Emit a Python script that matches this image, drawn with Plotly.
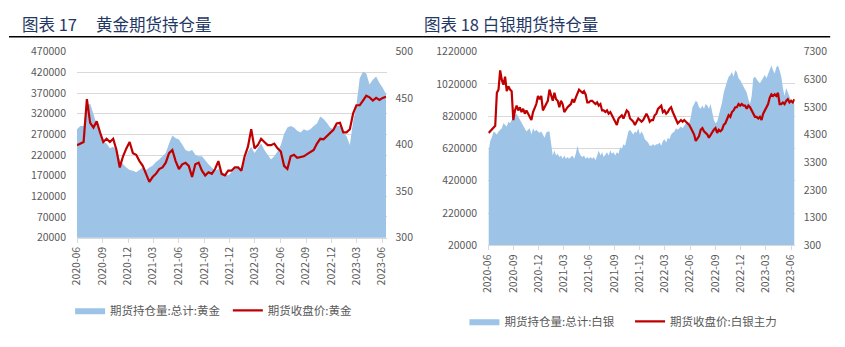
import pandas as pd
import plotly.graph_objects as go

# ---------------- data ----------------
gold_dates = pd.date_range("2020-06-01", "2023-06-15", periods=95)
gold_oi_k = [282.4, 290.2, 290.2, 340.3, 344.2, 317.2, 294.0, 278.6, 251.6, 247.7,
             236.1, 240.0, 232.3, 209.1, 197.5, 189.8, 183.6, 182.1, 178.2, 183.6,
             189.8, 183.6, 189.8, 193.7, 202.9, 209.1, 216.8, 224.6, 247.7, 267.0,
             260.8, 257.7, 245.4, 232.3, 228.4, 232.3, 220.7, 216.8, 216.8, 206.8,
             197.5, 189.8, 182.1, 186.0, 178.2, 174.4, 170.5, 178.2, 186.0, 189.8,
             183.6, 205.3, 228.4, 240.0, 224.6, 236.1, 247.7, 232.3, 220.7, 209.1,
             216.8, 228.4, 243.9, 270.9, 286.3, 290.2, 286.3, 278.6, 274.7, 282.4,
             278.6, 282.4, 290.2, 296.3, 313.3, 307.1, 297.9, 286.3, 282.4, 291.7,
             290.2, 274.7, 265.5, 243.9, 301.7, 340.3, 406.0, 421.4, 417.5, 390.5,
             402.1, 409.8, 394.4, 382.8, 367.4]
gold_oi = [v * 1000 for v in gold_oi_k]
gold_price = [399.5, 401.2, 402.9, 449.0, 423.5, 418.4, 425.2, 413.2, 402.9, 406.3,
              402.9, 406.3, 394.3, 375.5, 387.5, 396.0, 402.9, 390.9, 389.2, 382.3,
              377.2, 368.6, 360.0, 365.2, 368.6, 373.8, 375.5, 380.6, 390.9, 394.3,
              382.3, 373.8, 378.9, 380.6, 377.2, 365.2, 378.9, 380.6, 372.0, 366.9,
              370.3, 368.6, 373.8, 382.3, 368.6, 366.9, 372.0, 372.0, 375.5, 375.5,
              372.0, 387.5, 397.8, 416.6, 396.0, 399.5, 406.3, 402.9, 399.5, 399.5,
              401.2, 396.0, 392.6, 377.2, 373.8, 387.5, 389.2, 385.8, 386.4, 387.5,
              389.9, 392.6, 394.3, 401.2, 406.3, 405.7, 409.1, 413.2, 416.0, 422.8,
              423.5, 413.2, 413.2, 416.6, 433.8, 442.4, 442.4, 447.5, 452.7, 450.9,
              447.5, 450.3, 448.2, 450.3, 451.6]

silver_dates = pd.date_range("2020-06-03", "2023-06-13", periods=187)
silver_oi_k = [607, 667, 691, 726, 717, 707, 726, 736, 746, 776,
               766, 756, 786, 776, 796, 816, 826, 836, 816, 796,
               786, 766, 746, 726, 736, 746, 707, 746, 726, 736,
               726, 717, 726, 707, 687, 717, 726, 726, 647, 577,
               607, 577, 587, 567, 577, 557, 577, 557, 567, 557,
               567, 577, 557, 587, 637, 597, 577, 567, 577, 557,
               567, 557, 567, 557, 567, 547, 577, 607, 577, 597,
               567, 587, 597, 577, 607, 587, 597, 577, 597, 587,
               627, 617, 647, 637, 687, 726, 736, 717, 707, 726,
               717, 746, 707, 726, 707, 677, 667, 657, 637, 637,
               647, 637, 647, 647, 657, 637, 667, 677, 657, 687,
               677, 707, 717, 726, 746, 736, 746, 756, 746, 766,
               776, 786, 776, 816, 876, 896, 916, 906, 876, 866,
               886, 866, 896, 886, 866, 896, 846, 796, 776, 786,
               826, 866, 906, 965, 1005, 1035, 1065, 1075, 1095, 1065,
               1105, 1095, 1055, 1045, 1025, 1005, 985, 965, 925, 896,
               945, 1055, 1065, 1045, 1035, 1025, 1045, 1065, 1075, 1055,
               1085, 1105, 1134, 1105, 1085, 1124, 1134, 1105, 1065, 995,
               945, 995, 965, 945, 916, 906, 896]
silver_oi = [v * 1000 for v in silver_oi_k]
silver_price = [4364, 4422, 4480, 4538, 4619, 5815, 5931, 6627, 6279, 6105,
                6395, 5873, 6047, 5931, 5873, 4828, 5176, 5350, 5176, 5292,
                5118, 5234, 5060, 5176, 5060, 5002, 4828, 5118, 5234, 5408,
                5699, 5583, 5699, 5176, 5292, 5408, 5525, 5931, 5699, 5525,
                5815, 5583, 5525, 5292, 5525, 5408, 5118, 5234, 5292, 5350,
                5408, 5583, 5466, 5641, 5815, 5931, 5873, 5815, 5873, 5757,
                5466, 5466, 5525, 5525, 5466, 5408, 5466, 5350, 5408, 5176,
                5176, 5118, 5176, 5060, 5118, 5002, 4944, 4828, 4654, 4886,
                4944, 5002, 4886, 5002, 5176, 5118, 4886, 4828, 4770, 4654,
                4770, 4886, 4828, 4770, 4828, 4944, 5060, 4944, 4770, 4828,
                4828, 5002, 5060, 5234, 5292, 5350, 5118, 5176, 5060, 5118,
                5234, 5292, 5118, 5002, 4886, 4712, 4770, 4828, 4770, 4828,
                4770, 4712, 4654, 4538, 4422, 4305, 4073, 4189, 4247, 4480,
                4538, 4422, 4364, 4305, 4189, 4305, 4422, 4480, 4538, 4364,
                4480, 4422, 4480, 4654, 4712, 4828, 5002, 4944, 5118, 5176,
                5292, 5292, 5408, 5350, 5408, 5350, 5350, 5234, 5350, 5292,
                5176, 5002, 4944, 4944, 4886, 4944, 4828, 5060, 5176, 5350,
                5408, 5641, 5757, 5699, 5757, 5699, 5815, 5408, 5408, 5466,
                5408, 5525, 5583, 5466, 5525, 5466, 5583]

gold_ticks = list(range(20000, 470001, 50000))
silver_ticks = list(range(20000, 1220001, 200000))

gold_names = ["期货持仓量:总计:黄金", "期货收盘价:黄金"]
silver_names = ["期货持仓量:总计:白银", "期货收盘价:白银主力"]
titles = ["图表 17", "黄金期货持仓量", "图表 18 白银期货持仓量"]

# ---------------- styling ----------------
W, H = 845, 347
AREA = "#9DC3E6"
RED = "#C00000"
GRID = "#D9D9D9"
TXT = "#595959"
FONT = "Noto Sans CJK SC"


def px(x):
    return x / W


def py(y):
    return 1 - y / H


fig = go.Figure()
fig.add_trace(go.Scatter(x=gold_dates, y=gold_oi, name=gold_names[0], mode="lines",
                         line=dict(width=0, color=AREA), fill="tozeroy", fillcolor=AREA,
                         xaxis="x", yaxis="y", legend="legend"))
fig.add_trace(go.Scatter(x=gold_dates, y=gold_price, name=gold_names[1], mode="lines",
                         line=dict(width=2.2, color=RED),
                         xaxis="x", yaxis="y2", legend="legend2"))
fig.add_trace(go.Scatter(x=silver_dates, y=silver_oi, name=silver_names[0], mode="lines",
                         line=dict(width=0, color=AREA), fill="tozeroy", fillcolor=AREA,
                         xaxis="x2", yaxis="y3", legend="legend3"))
fig.add_trace(go.Scatter(x=silver_dates, y=silver_price, name=silver_names[1], mode="lines",
                         line=dict(width=2.2, color=RED),
                         xaxis="x2", yaxis="y4", legend="legend4"))

tickfont = dict(family=FONT, size=10.5, color=TXT)
xcommon = dict(type="date", tick0="2020-06-01", dtick="M3", tickformat="%Y-%m",
               tickangle=-90, showline=True, linecolor=GRID, linewidth=1,
               ticks="outside", ticklen=4, tickcolor=GRID, showgrid=False,
               zeroline=False, tickfont=tickfont)
ycommon = dict(showgrid=True, gridcolor=GRID, gridwidth=1, zeroline=False,
               showline=False, ticks="", tickformat="d", tickfont=tickfont,
               ticklabelstandoff=10)
y2common = dict(showgrid=False, zeroline=False, showline=False, ticks="",
                tickformat="d", tickfont=tickfont, side="right", ticklabelstandoff=8)
legfont = dict(family=FONT, size=11.5, color=TXT)


def leg(x, y):
    return dict(orientation="h", x=px(x), y=py(y), xanchor="left", yanchor="middle",
                font=legfont, bgcolor="rgba(0,0,0,0)", itemwidth=30, tracegroupgap=0)


fig.update_layout(
    width=W, height=H,
    margin=dict(l=0, r=0, t=0, b=0),
    paper_bgcolor="white", plot_bgcolor="white",
    font=dict(family=FONT, color=TXT),
    xaxis=dict(domain=[px(69), px(383)], anchor="y",
               range=["2020-06-01", "2023-06-17"], **xcommon),
    yaxis=dict(domain=[py(240), py(45.7)], anchor="x", range=[20000, 470000],
               tickvals=gold_ticks, **ycommon),
    yaxis2=dict(overlaying="y", anchor="x", range=[300, 500], dtick=50, tick0=300,
                **y2common),
    xaxis2=dict(domain=[px(486), px(797)], anchor="y3",
                range=["2020-06-01", "2023-06-14"], **xcommon),
    yaxis3=dict(domain=[py(248), py(45.7)], anchor="x2", range=[20000, 1220000],
                tickvals=silver_ticks, **ycommon),
    yaxis4=dict(overlaying="y3", anchor="x2", range=[300, 7300], dtick=1000, tick0=300,
                **y2common),
    legend=leg(62, 316),
    legend2=leg(222, 316),
    legend3=leg(462, 327.5),
    legend4=leg(630, 327.5),
    showlegend=True,
)

title_font = dict(family=FONT, size=16.5, color="#1F3864")
fig.add_annotation(text=titles[0], x=px(11), y=py(16.5), xref="paper", yref="paper",
                   xanchor="left", yanchor="middle", showarrow=False, font=title_font)
fig.add_annotation(text=titles[1], x=px(86), y=py(16.5), xref="paper", yref="paper",
                   xanchor="left", yanchor="middle", showarrow=False, font=title_font)
fig.add_annotation(text=titles[2], x=px(419), y=py(16.5), xref="paper", yref="paper",
                   xanchor="left", yanchor="middle", showarrow=False, font=title_font)

fig.add_shape(type="line", xref="paper", yref="paper", x0=0, x1=px(420),
              y0=py(30), y1=py(30), line=dict(color="black", width=1.5))
fig.add_shape(type="line", xref="paper", yref="paper", x0=px(420), x1=px(833),
              y0=py(30), y1=py(30), line=dict(color="black", width=1.5))

fig.write_html("out.html")
